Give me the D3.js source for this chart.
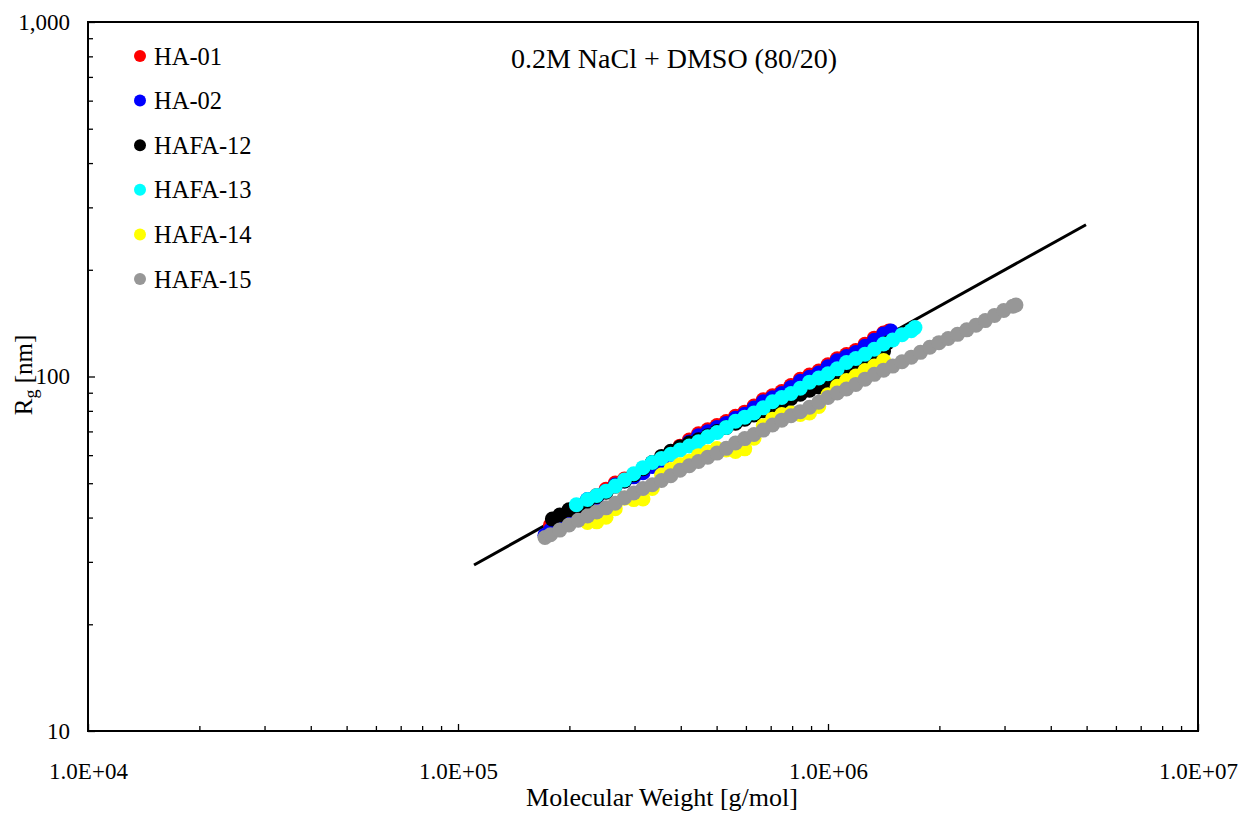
<!DOCTYPE html>
<html>
<head>
<meta charset="utf-8">
<script src="https://cdnjs.cloudflare.com/ajax/libs/d3/7.8.5/d3.min.js"></script>
<style>
  body { margin: 0; background: #fff; }
  svg text { font-family: "Liberation Serif", "Times New Roman", serif; fill: #000; }
</style>
</head>
<body>
<svg id="chart"></svg>
<script>
// series: [molecular weight g/mol, Rg nm]
var seriesNames = ["HA-01", "HA-02", "HAFA-12", "HAFA-13", "HAFA-14", "HAFA-15"];
var seriesColors = ["#ff0000", "#0000ff", "#000000", "#00ffff", "#ffff00", "#979797"];

var ha01 = [
  [1.778e5, 38.09], [1.884e5, 39.64], [1.995e5, 41.25], [2.113e5, 42.94], [2.239e5, 44.68],
  [2.371e5, 46.20], [2.512e5, 48.08], [2.661e5, 50.04], [2.818e5, 51.40], [2.985e5, 52.80],
  [3.162e5, 54.24], [3.350e5, 56.44], [3.548e5, 58.75], [3.758e5, 61.14], [3.981e5, 63.62],
  [4.217e5, 66.22], [4.467e5, 68.91], [4.732e5, 70.78], [5.012e5, 72.71], [5.309e5, 74.69],
  [5.623e5, 77.23], [5.957e5, 79.34], [6.310e5, 82.57], [6.683e5, 85.92], [7.079e5, 88.27],
  [7.499e5, 90.67], [7.943e5, 94.36], [8.414e5, 98.20], [8.913e5, 100.9], [9.441e5, 103.6],
  [1.000e6, 107.9], [1.059e6, 112.2], [1.122e6, 115.3], [1.189e6, 118.4], [1.259e6, 123.3],
  [1.334e6, 128.3], [1.413e6, 132.6], [1.462e6, 134.4]
];
var ha02 = [
  [1.718e5, 35.68], [1.778e5, 36.87], [1.884e5, 39.13], [1.995e5, 41.25], [2.113e5, 43.22],
  [2.239e5, 44.97], [2.371e5, 45.60], [2.512e5, 47.46], [2.661e5, 49.39], [2.818e5, 50.74],
  [2.985e5, 52.12], [3.162e5, 53.54], [3.350e5, 55.72], [3.548e5, 57.99], [3.758e5, 60.35],
  [3.981e5, 62.80], [4.217e5, 65.36], [4.467e5, 68.01], [4.732e5, 69.87], [5.012e5, 71.78],
  [5.309e5, 73.73], [5.623e5, 76.23], [5.957e5, 78.31], [6.310e5, 81.50], [6.683e5, 84.82],
  [7.079e5, 87.12], [7.499e5, 89.50], [7.943e5, 93.14], [8.414e5, 96.93], [8.913e5, 99.56],
  [9.441e5, 102.3], [1.000e6, 106.5], [1.059e6, 110.7], [1.122e6, 113.8], [1.189e6, 116.9],
  [1.259e6, 121.7], [1.334e6, 126.6], [1.413e6, 131.7], [1.479e6, 134.4]
];
var hafa12 = [
  [1.799e5, 39.61], [1.884e5, 40.69], [1.995e5, 42.06], [2.113e5, 43.22], [2.239e5, 44.39],
  [2.371e5, 45.90], [2.512e5, 47.15], [2.661e5, 49.07], [2.818e5, 50.74], [2.985e5, 52.80],
  [3.162e5, 54.95], [3.350e5, 57.19], [3.548e5, 59.52], [3.758e5, 61.54], [3.981e5, 63.21],
  [4.217e5, 64.94], [4.467e5, 66.27], [4.732e5, 68.08], [5.012e5, 69.94], [5.309e5, 71.84],
  [5.623e5, 73.80], [5.957e5, 75.81], [6.310e5, 77.88], [6.683e5, 80.00], [7.079e5, 82.18],
  [7.499e5, 84.42], [7.943e5, 86.72], [8.414e5, 89.09], [8.913e5, 91.51], [9.441e5, 93.41],
  [1.000e6, 95.98], [1.059e6, 98.52], [1.122e6, 101.9], [1.189e6, 105.4], [1.259e6, 108.3],
  [1.334e6, 111.9], [1.413e6, 118.0], [1.445e6, 124.3]
];
var hafa13 = [
  [2.089e5, 43.49], [2.239e5, 44.97], [2.371e5, 46.20], [2.512e5, 47.46], [2.661e5, 49.07],
  [2.818e5, 51.07], [2.985e5, 53.15], [3.162e5, 55.31], [3.350e5, 57.19], [3.548e5, 58.75],
  [3.758e5, 60.35], [3.981e5, 61.99], [4.217e5, 63.69], [4.467e5, 65.41], [4.732e5, 67.64],
  [5.012e5, 69.48], [5.309e5, 71.84], [5.623e5, 74.76], [5.957e5, 76.80], [6.310e5, 78.89],
  [6.683e5, 81.57], [7.079e5, 84.89], [7.499e5, 87.21], [7.943e5, 89.58], [8.414e5, 92.62],
  [8.913e5, 96.38], [9.441e5, 99.03], [1.000e6, 101.8], [1.059e6, 105.1], [1.122e6, 109.5],
  [1.189e6, 112.4], [1.259e6, 115.5], [1.334e6, 119.4], [1.413e6, 123.5], [1.496e6, 126.8],
  [1.585e6, 131.1], [1.679e6, 134.7], [1.718e6, 137.4]
];
var hafa14 = [
  [2.239e5, 38.76], [2.371e5, 38.90], [2.512e5, 40.07], [2.661e5, 42.37], [2.818e5, 45.37],
  [2.985e5, 44.95], [3.162e5, 45.11], [3.350e5, 48.32], [3.548e5, 52.76], [3.758e5, 54.70],
  [3.981e5, 56.36], [4.217e5, 57.67], [4.467e5, 59.80], [4.732e5, 61.20], [5.012e5, 62.64],
  [5.309e5, 62.05], [5.623e5, 61.46], [5.957e5, 62.50], [6.310e5, 66.95], [6.683e5, 72.63],
  [7.079e5, 75.79], [7.499e5, 78.07], [7.943e5, 78.87], [8.414e5, 78.14], [8.913e5, 78.93],
  [9.441e5, 82.36], [1.000e6, 88.82], [1.059e6, 93.89], [1.122e6, 97.41], [1.189e6, 100.3],
  [1.259e6, 104.0], [1.334e6, 107.1], [1.413e6, 111.0]
];
var hafa15 = [
  [1.718e5, 35.15], [1.778e5, 35.78], [1.884e5, 36.87], [1.995e5, 38.1], [2.113e5, 39.3],
  [2.239e5, 40.4], [2.371e5, 41.5], [2.512e5, 42.6], [2.661e5, 43.9], [2.818e5, 45.5],
  [2.985e5, 46.9], [3.162e5, 48.3], [3.350e5, 49.5], [3.548e5, 50.9], [3.758e5, 52.5],
  [3.981e5, 54.4], [4.217e5, 56.0], [4.467e5, 57.6], [4.732e5, 59.2], [5.012e5, 60.8],
  [5.309e5, 62.7], [5.623e5, 64.9], [5.957e5, 66.8], [6.310e5, 68.6], [6.683e5, 70.6],
  [7.079e5, 73.0], [7.499e5, 75.3], [7.943e5, 77.5], [8.414e5, 79.6], [8.913e5, 81.9],
  [9.441e5, 84.6], [1.000e6, 87.3], [1.059e6, 89.8], [1.122e6, 92.2], [1.189e6, 95.0],
  [1.259e6, 98.3], [1.334e6, 101.4], [1.413e6, 104.2], [1.496e6, 107.0], [1.585e6, 110.1],
  [1.679e6, 113.4], [1.778e6, 117.0], [1.884e6, 120.9], [1.995e6, 124.6], [2.113e6, 128.0],
  [2.239e6, 131.5], [2.371e6, 135.4], [2.512e6, 139.6], [2.661e6, 143.8], [2.818e6, 148.7],
  [2.985e6, 153.5], [3.162e6, 157.9], [3.221e6, 159.1]
];
var allSeries = [ha01, ha02, hafa12, hafa13, hafa14, hafa15];

// power-law trend line, two end points
var fitLine = [[1.105e5, 29.4], [4.98e6, 268]];

var xTicks = [1e4, 1e5, 1e6, 1e7];
var yTicks = [10, 100, 1000];
var chartTitle = "0.2M NaCl + DMSO (80/20)";

(function() {
  var width = 1242,
    height = 813;
  var plotLeft = 88, plotRight = 1198, plotTop = 22, plotBottom = 731;

  var svg = d3.select("#chart")
    .attr("width", width)
    .attr("height", height);

  var x = d3.scaleLog().domain([1e4, 1e7]).range([plotLeft, plotRight]);
  var y = d3.scaleLog().domain([10, 1000]).range([plotBottom, plotTop]);

  function minorTicks(scale) {
    var out = [];
    scale.ticks().forEach(function(t) {
      var m = t / Math.pow(10, Math.floor(Math.log10(t) + 1e-9));
      if (Math.round(m) !== 1) out.push(t);
    });
    return out;
  }

  var fmtX = function(d) {
    var e = Math.round(Math.log10(d));
    return "1.0E+" + (e < 10 ? "0" + e : e);
  };

  // minor ticks
  svg.append("g")
    .attr("transform", "translate(0," + plotBottom + ")")
    .call(d3.axisBottom(x).tickValues(minorTicks(x)).tickSize(-5).tickSizeOuter(0).tickFormat(""))
    .call(function(g) { g.select(".domain").remove(); });
  svg.append("g")
    .attr("transform", "translate(" + plotLeft + ",0)")
    .call(d3.axisLeft(y).tickValues(minorTicks(y)).tickSize(-5).tickSizeOuter(0).tickFormat(""))
    .call(function(g) { g.select(".domain").remove(); });

  // major ticks + labels
  svg.append("g")
    .attr("transform", "translate(0," + plotBottom + ")")
    .call(d3.axisBottom(x).tickValues(xTicks).tickSize(-7).tickSizeOuter(0).tickPadding(32).tickFormat(fmtX))
    .call(function(g) { g.select(".domain").remove(); });
  svg.append("g")
    .attr("transform", "translate(" + plotLeft + ",0)")
    .call(d3.axisLeft(y).tickValues(yTicks).tickSize(-7).tickSizeOuter(0).tickPadding(18).tickFormat(d3.format(",")))
    .call(function(g) { g.select(".domain").remove(); });

  svg.selectAll(".tick line").attr("stroke", "#000").attr("stroke-width", 1.3);
  svg.selectAll(".tick text")
    .style("font-family", '"Liberation Serif", "Times New Roman", serif')
    .style("font-size", "23px")
    .attr("fill", "#000");

  // trend line
  svg.append("path")
    .datum(fitLine)
    .attr("d", d3.line().x(function(d) { return x(d[0]); }).y(function(d) { return y(d[1]); }))
    .attr("stroke", "#000")
    .attr("stroke-width", 3)
    .attr("fill", "none");

  // data
  allSeries.forEach(function(s, i) {
    svg.append("g")
      .attr("fill", seriesColors[i])
      .selectAll("circle")
      .data(s)
      .enter().append("circle")
      .attr("cx", function(d) { return x(d[0]); })
      .attr("cy", function(d) { return y(d[1]); })
      .attr("r", 7.5);
  });

  // frame
  svg.append("rect")
    .attr("x", plotLeft)
    .attr("y", plotTop)
    .attr("width", plotRight - plotLeft)
    .attr("height", plotBottom - plotTop)
    .attr("fill", "none")
    .attr("stroke", "#000")
    .attr("stroke-width", 2);

  // legend
  var legend = svg.append("g");
  seriesNames.forEach(function(name, i) {
    var ly = 56 + i * 44.6;
    legend.append("circle")
      .attr("cx", 140)
      .attr("cy", ly)
      .attr("r", 6)
      .attr("fill", seriesColors[i]);
    legend.append("text")
      .attr("x", 154)
      .attr("y", ly)
      .attr("dy", "0.35em")
      .style("font-size", "24.5px")
      .text(name);
  });

  // title
  svg.append("text")
    .attr("x", 674)
    .attr("y", 68)
    .attr("text-anchor", "middle")
    .style("font-size", "28px")
    .text(chartTitle);

  // axis titles
  svg.append("text")
    .attr("x", 662)
    .attr("y", 806)
    .attr("text-anchor", "middle")
    .style("font-size", "26px")
    .text("Molecular Weight [g/mol]");

  var yTitle = svg.append("text")
    .attr("transform", "translate(32,375) rotate(-90)")
    .attr("text-anchor", "middle")
    .style("font-size", "25px");
  yTitle.append("tspan").text("R");
  yTitle.append("tspan").attr("dy", 5).style("font-size", "18px").text("g");
  yTitle.append("tspan").attr("dy", -5).text(" [nm]");
})();
</script>
</body>
</html>
